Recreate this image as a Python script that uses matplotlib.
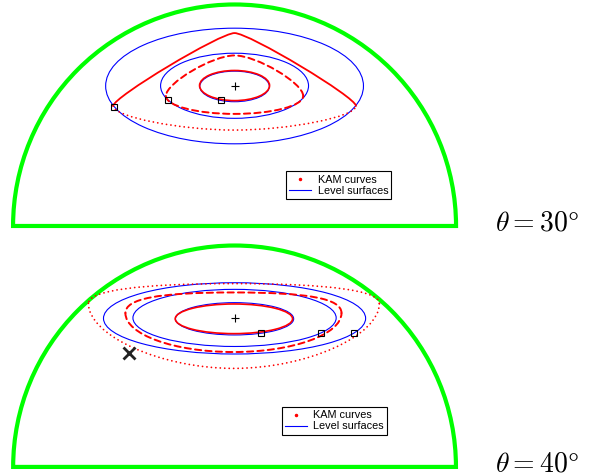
import matplotlib
matplotlib.use("Agg")
import matplotlib.pyplot as plt
from matplotlib.patches import Ellipse, Wedge, PathPatch
from matplotlib.path import Path
from matplotlib.lines import Line2D

plt.rcParams['mathtext.fontset'] = 'cm'
plt.rcParams['lines.scale_dashes'] = False

# dome radius = 1, centre of the base at (0, 0)

# theta = 30 deg
level30_y = [0.630, 0.633, 0.632]
level30_a = [0.157, 0.334, 0.582]
level30_b = [0.069, 0.147, 0.261]
kam30_inner = (0.0, 0.634, 0.158, 0.068)          # xc, yc, a, b
# xc, y_mid, half width, y_top, y_bottom, kappa upper, kappa lower
kam30_mid = (0.0, 0.587, 0.310, 0.770, 0.506, 0.32, 0.55)
kam30_out = (0.0, 0.542, 0.548, 0.871, 0.433, 0.12, 0.45)
squares30_x = [-0.544, -0.302, -0.062]
squares30_y = [0.536, 0.567, 0.567]
centre30 = (0.0, 0.630)

# theta = 40 deg
level40_y = [0.669, 0.673, 0.671]
level40_a = [0.267, 0.459, 0.592]
level40_b = [0.073, 0.129, 0.161]
kam40_inner = (-0.003, 0.669, 0.265, 0.067)
kam40_mid = (-0.005, 0.695, 0.488, 0.788, 0.519, 0.70, 0.55)
kam40_out = (-0.003, 0.739, 0.657, 0.828, 0.445, 0.65, 0.50)
squares40_x = [0.120, 0.389, 0.541]
squares40_y = [0.606, 0.606, 0.606]
centre40 = (0.0, 0.671)
cross40 = (-0.475, 0.513)

labels = [r'$\theta = 30\degree$', r'$\theta = 40\degree$']
legend_labels = ['KAM curves', 'Level surfaces']

DENSE = dict(ls='-', lw=1.2)
DASHED = dict(ls=(0, (4.5, 3.0)), lw=1.4)
DOTTED = dict(ls=(0, (0.01, 3.2)), lw=1.3)
SOLID = dict(ls='-', lw=1.3)


def egg_halves(xc, y_mid, w, y_top, y_bot, k_up, k_lo):
    hu = y_top - y_mid
    hl = y_mid - y_bot
    codes = [Path.MOVETO] + [Path.CURVE4] * 6
    upper = Path([(xc + w, y_mid), (xc + w, y_mid + k_up * hu), (xc + k_up * w, y_top),
                  (xc, y_top), (xc - k_up * w, y_top), (xc - w, y_mid + k_up * hu),
                  (xc - w, y_mid)], codes)
    lower = Path([(xc - w, y_mid), (xc - w, y_mid - k_lo * hl), (xc - k_lo * w, y_bot),
                  (xc, y_bot), (xc + k_lo * w, y_bot), (xc + w, y_mid - k_lo * hl),
                  (xc + w, y_mid)], codes)
    return upper, lower


def add_kam(ax, path, style):
    p = PathPatch(path, fill=False, edgecolor='red', **style)
    p.set_capstyle('round')
    ax.add_patch(p)


def draw_panel(ax, ylim, lev_y, lev_a, lev_b, inner, mid, out, out_styles,
               sq_x, sq_y, centre, leg_xy):
    ax.set_xlim(-1.059, 1.063)
    ax.set_ylim(*ylim)
    ax.set_aspect('equal')
    ax.axis('off')

    ax.add_patch(Wedge((0, 0), 1.0, 0, 180, fill=False, edgecolor='#00ff00',
                       lw=3.0, joinstyle='miter'))

    for y, a, b in zip(lev_y, lev_a, lev_b):
        ax.add_patch(Ellipse((0, y), 2 * a, 2 * b, fill=False, edgecolor='blue', lw=0.8))

    xc, yc, a, b = inner
    ax.add_patch(Ellipse((xc, yc), 2 * a, 2 * b, fill=False, edgecolor='red', **DENSE))

    up, lo = egg_halves(*mid)
    add_kam(ax, up, DASHED)
    add_kam(ax, lo, DASHED)

    up, lo = egg_halves(*out)
    add_kam(ax, up, out_styles[0])
    add_kam(ax, lo, out_styles[1])

    ax.plot(sq_x, sq_y, ls='none', marker='s', ms=4.5, mfc='none', mec='black', mew=0.8)
    ax.plot(*centre, marker='+', color='black', ms=6, mew=0.8)

    handles = [Line2D([], [], ls='none', marker='.', color='red', ms=3),
               Line2D([], [], color='blue', lw=0.8)]
    leg = ax.legend(handles, legend_labels, loc='upper left', bbox_to_anchor=leg_xy,
                    bbox_transform=ax.transData, borderaxespad=0, fancybox=False,
                    edgecolor='black', framealpha=1, handlelength=2.0, handletextpad=0.6,
                    borderpad=0.3, labelspacing=0.1,
                    prop={'family': 'Liberation Sans', 'size': 7.8})
    leg.get_frame().set_linewidth(0.8)


fig = plt.figure(figsize=(5.97, 4.76), dpi=100)
ax1 = fig.add_axes([0, 240 / 476, 470 / 597, 236 / 476])
ax2 = fig.add_axes([0, 0, 470 / 597, 240 / 476])

draw_panel(ax1, (-0.045, 1.020), level30_y, level30_a, level30_b, kam30_inner,
           kam30_mid, kam30_out, (SOLID, DOTTED), squares30_x, squares30_y,
           centre30, (0.233, 0.247))
draw_panel(ax2, (-0.041, 1.043), level40_y, level40_a, level40_b, kam40_inner,
           kam40_mid, kam40_out, (DOTTED, DOTTED), squares40_x, squares40_y,
           centre40, (0.213, 0.270))
ax2.plot(*cross40, marker='x', color='#222222', ms=8, mew=2)

fig.text(495 / 597, 1 - 230 / 476, labels[0], fontsize=20, ha='left', va='baseline')
fig.text(495 / 597, 1 - 471 / 476, labels[1], fontsize=20, ha='left', va='baseline')

fig.savefig('out.png', dpi=100)
